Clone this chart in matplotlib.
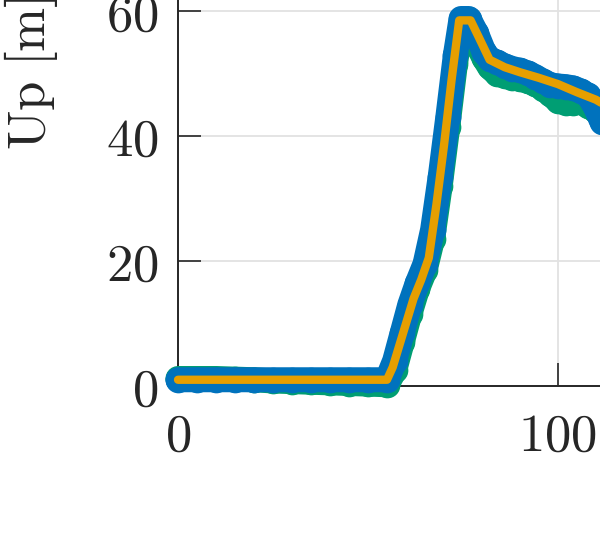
import matplotlib
matplotlib.use('Agg')
import matplotlib.pyplot as plt
from matplotlib.ticker import FuncFormatter

plt.rcParams['mathtext.fontset'] = 'cm'
plt.rcParams['font.family'] = 'serif'

# series (x in samples, Up in m)
x_meas = [0, 5, 10, 15, 20, 25, 30, 35, 40, 45, 50, 55, 57, 59, 61, 63, 65, 67, 69, 71, 73,
          74.5, 76.5, 78.5, 80.5, 82, 84, 86, 88, 90, 92, 94, 96, 98, 100, 102, 104, 106,
          108, 110, 111.5, 113, 116, 120]
up_blue = [1.0, 1.0, 1.0, 1.0, 1.0, 1.0, 1.0, 1.0, 1.0, 1.0, 1.0, 1.0, 4.0, 8.5, 13.0, 16.5,
           19.5, 25.0, 33.5, 43.0, 53.0, 58.8, 58.8, 56.5, 53.5, 52.3, 51.8, 51.2, 50.8, 50.5,
           50.1, 49.5, 48.8, 48.2, 48.0, 47.9, 47.7, 47.2, 46.5, 44.5, 42.3, 42.5, 43.0, 42.0]
up_green = [1.2, 1.2, 1.2, 1.1, 1.0, 0.8, 0.7, 0.6, 0.5, 0.4, 0.3, 0.2, 2.5, 7.0, 11.5, 15.5,
            18.5, 23.5, 32.0, 41.5, 51.5, 57.5, 57.8, 55.0, 52.5, 51.0, 49.9, 49.6, 49.3, 49.1,
            48.8, 48.3, 47.6, 46.7, 45.6, 45.3, 45.3, 45.4, 44.8, 44.0, 43.5, 43.0, 42.5, 41.5]

x_est = [0, 10, 20, 30, 40, 50, 55, 56.5, 58, 60, 62, 64, 66, 68, 70, 72, 74, 77, 79, 82,
         86, 90, 95, 100, 105, 110, 115, 120]
up_est = [1, 1, 1, 1, 1, 1, 1, 3, 6, 10, 14, 17, 20.5, 29, 38.5, 49, 58.5, 58.5, 56, 52.2,
          51, 50.2, 49.3, 48.3, 47, 45.8, 44, 42]

xticks = [0, 100]
yticks = [0, 20, 40, 60]

fig = plt.figure(figsize=(6, 5.4), dpi=100)
# big axes, only the lower-left corner lands inside the picture
ax = fig.add_axes([178 / 600, 154 / 540, 570 / 600, 437.5 / 540])

ax.plot(x_meas, up_green, '-o', color='#009E73', lw=18, ms=18.5, mew=0,
        solid_capstyle='round', solid_joinstyle='round', clip_on=False, zorder=3)
ax.plot(x_meas, up_blue, '-o', color='#0072BD', lw=18, ms=18.5, mew=0,
        solid_capstyle='round', solid_joinstyle='round', clip_on=False, zorder=4)
ax.plot(x_est, up_est, '-', color='#E69F00', lw=6,
        solid_capstyle='round', solid_joinstyle='round', clip_on=False, zorder=5)

ax.set_xticks(xticks)
ax.set_yticks(yticks)
ax.set_xlim(0, 150)
ax.set_ylim(0, 70)
fmt = FuncFormatter(lambda v, p: r'$%d$' % v)
ax.xaxis.set_major_formatter(fmt)
ax.yaxis.set_major_formatter(fmt)
ax.tick_params(direction='in', length=16.5, width=1.2, colors='#262626',
               labelsize=38, pad=14)
ax.tick_params(axis='x', pad=18)
ax.grid(True, color='#e2e2e2', lw=1.3)
ax.set_axisbelow(True)
for s in ax.spines.values():
    s.set_linewidth(1.4)
    s.set_color('#262626')
    s.set_zorder(2)

ax.set_ylabel(r'$\mathrm{Up\ [m]}$', fontsize=38, ha='left', va='center', color='#262626')
ax.yaxis.set_label_coords((31 - 178) / 570, (386 - 150) / 437.5)

fig.savefig('out.png', dpi=100)
